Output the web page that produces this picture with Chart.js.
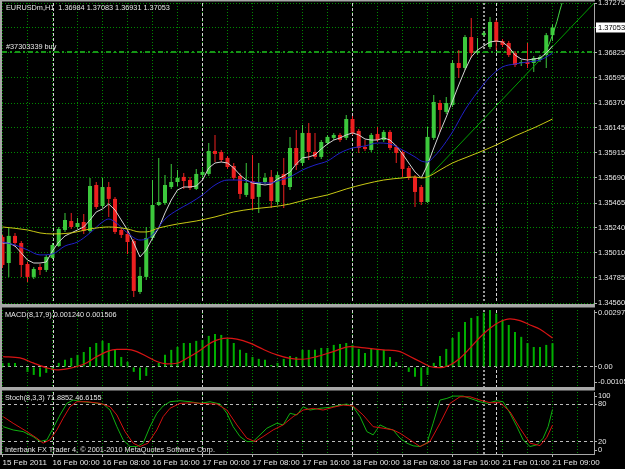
<!DOCTYPE html>
<html><head><meta charset="utf-8">
<script src="https://cdn.jsdelivr.net/npm/chart.js@4.4.1/dist/chart.umd.min.js"></script>
<style>
html,body{margin:0;padding:0;background:#000;width:625px;height:469px;overflow:hidden}
canvas{position:absolute;left:0;display:block}
#c1{top:0}#c2{top:306px}#c3{top:389px}
</style></head><body>
<canvas id="c1" width="625" height="306"></canvas>
<canvas id="c2" width="625" height="83"></canvas>
<canvas id="c3" width="625" height="80"></canvas>
<script>
// ---------------- DATA ----------------
const open = [1.35158,1.34922,1.35167,1.35103,1.34913,1.34796,1.34886,1.34859,1.34968,1.35076,
1.35221,1.35302,1.35248,1.35293,1.35212,1.35628,1.35438,1.35610,1.35502,1.35221,
1.35185,1.35121,1.34660,1.34796,1.35148,1.35447,1.35465,1.35610,1.35655,1.35701,
1.35673,1.35592,1.35719,1.35728,1.35936,1.35927,1.35873,1.35800,1.35710,1.35538,
1.35664,1.35520,1.35655,1.35701,1.35474,1.35728,1.35610,1.35963,1.35827,1.36099,
1.35927,1.35882,1.36008,1.36054,1.36081,1.36054,1.36225,1.36117,1.35972,1.35945,
1.36090,1.36035,1.36108,1.35972,1.35927,1.35782,1.35701,1.35610,1.35474,1.36054,
1.36370,1.36289,1.36352,1.36732,1.36687,1.36967,1.36822,1.36985,1.36877,1.37103,
1.36931,1.36913,1.36822,1.36732,1.36741,1.36732,1.36759,1.36804,1.36984];
const high = [1.35176,1.35239,1.35194,1.35121,1.34931,1.34886,1.34913,1.34995,1.35103,1.35248,
1.35375,1.35375,1.35330,1.35366,1.35692,1.35655,1.35692,1.35655,1.35520,1.35239,
1.35212,1.35139,1.34886,1.35248,1.35673,1.35873,1.35719,1.35818,1.35764,1.35737,
1.35701,1.35773,1.35791,1.36008,1.36081,1.35945,1.35891,1.35827,1.35737,1.35827,
1.35900,1.35827,1.35737,1.35764,1.35746,1.35873,1.36063,1.36126,1.36171,1.36189,
1.36099,1.36035,1.36081,1.36099,1.36099,1.36262,1.36253,1.36135,1.36035,1.36099,
1.36153,1.36126,1.36126,1.35990,1.35945,1.35800,1.35719,1.35628,1.36153,1.36443,
1.36397,1.36424,1.36759,1.36850,1.36985,1.37139,1.36958,1.37022,1.37148,1.37121,
1.36949,1.36931,1.36840,1.36759,1.36913,1.36795,1.36804,1.37004,1.37083];
const low = [1.34877,1.34796,1.35067,1.34796,1.34750,1.34778,1.34814,1.34841,1.34959,1.35067,
1.35203,1.35230,1.35230,1.35185,1.35194,1.35411,1.35420,1.35339,1.35185,1.35148,
1.35004,1.34615,1.34642,1.34768,1.35130,1.35438,1.35447,1.35592,1.35619,1.35592,
1.35583,1.35583,1.35701,1.35710,1.35836,1.35836,1.35773,1.35673,1.35502,1.35520,
1.35402,1.35375,1.35637,1.35420,1.35447,1.35420,1.35583,1.35764,1.35800,1.35854,
1.35863,1.35863,1.35990,1.36035,1.36017,1.36035,1.36081,1.35918,1.35936,1.35927,
1.36017,1.36017,1.35945,1.35827,1.35701,1.35673,1.35429,1.35447,1.35465,1.36035,
1.36108,1.36271,1.36334,1.36596,1.36669,1.36777,1.36804,1.36967,1.36859,1.36850,
1.36877,1.36786,1.36696,1.36705,1.36687,1.36651,1.36741,1.36687,1.36931];
const close = [1.34904,1.35167,1.35103,1.34904,1.34796,1.34868,1.34859,1.34977,1.35085,1.35230,
1.35311,1.35248,1.35284,1.35212,1.35619,1.35429,1.35610,1.35502,1.35203,1.35176,
1.35112,1.34669,1.34805,1.35148,1.35447,1.35474,1.35628,1.35655,1.35692,1.35664,
1.35601,1.35728,1.35746,1.35936,1.35909,1.35854,1.35791,1.35692,1.35547,1.35646,
1.35502,1.35655,1.35692,1.35483,1.35719,1.35628,1.35963,1.35809,1.36099,1.35927,
1.35882,1.36017,1.36063,1.36081,1.36035,1.36225,1.36099,1.35963,1.35954,1.36081,
1.36035,1.36108,1.35963,1.35918,1.35773,1.35692,1.35565,1.35474,1.36063,1.36379,
1.36307,1.36370,1.36732,1.36687,1.36967,1.36822,1.36840,1.37004,1.37103,1.36922,
1.36895,1.36804,1.36714,1.36741,1.36723,1.36777,1.36786,1.36984,1.37053];

// fast MA (white), one value per bar
const maWhite = [1.35103,1.35103,1.35076,1.35013,1.34949,1.34922,1.34922,1.34931,1.35031,1.35112,
1.35167,1.35194,1.35221,1.35248,1.35311,1.35384,1.35411,1.35456,1.35402,1.35311,
1.35221,1.35103,1.34977,1.35040,1.35148,1.35239,1.35375,1.35492,1.35583,1.35610,
1.35610,1.35619,1.35673,1.35782,1.35827,1.35836,1.35827,1.35782,1.35719,1.35673,
1.35646,1.35637,1.35628,1.35637,1.35682,1.35710,1.35746,1.35818,1.35873,1.35882,
1.35900,1.35954,1.35999,1.36035,1.36054,1.36081,1.36099,1.36081,1.36044,1.36035,
1.36035,1.36054,1.36035,1.35981,1.35909,1.35827,1.35746,1.35692,1.35809,1.35963,
1.36108,1.36243,1.36388,1.36533,1.36669,1.36786,1.36850,1.36886,1.36922,1.36931,
1.36922,1.36877,1.36804,1.36768,1.36759,1.36768,1.36777,1.36822,1.36886];
// medium MA (blue), read at these bars
const maBlueBars = [0,2,4,6,8,10,12,14,16,17,18,20,22,23,24,26,28,30,32,34,36,38,40,42,43,44,46,48,50,52,54,56,58,60,62,64,66,67,68,69,70,72,74,76,78,80,82,84,86,87,88];
const maBlue = [1.35112,1.35085,1.35040,1.34995,1.35004,1.35076,1.35112,1.35194,1.35293,1.35320,
1.35293,1.35194,1.35130,1.35139,1.35176,1.35320,1.35402,1.35465,1.35538,1.35628,
1.35673,1.35673,1.35655,1.35646,1.35646,1.35664,1.35701,1.35764,1.35809,1.35845,
1.35918,1.35963,1.35981,1.36008,1.35999,1.35945,1.35882,1.35845,1.35836,1.35882,
1.35945,1.36108,1.36307,1.36469,1.36605,1.36696,1.36723,1.36741,1.36759,1.36786,1.36822];
// slow MA (yellow), read at these bars
const maYellowBars = [0,4,6,8,11,14,17,20,22,23,25,28,31,34,37,40,43,46,49,52,55,58,61,64,66,67,68,70,72,74,76,79,82,85,88];
const maYellow = [1.35248,1.35221,1.35194,1.35185,1.35194,1.35230,1.35248,1.35230,1.35203,1.35203,
1.35239,1.35275,1.35302,1.35339,1.35384,1.35411,1.35429,1.35456,1.35502,1.35538,
1.35592,1.35637,1.35673,1.35692,1.35701,1.35692,1.35701,1.35764,1.35827,1.35873,
1.35918,1.35990,1.36072,1.36144,1.36225];
// trend line and steep green curve
const trendBars = [68, 95];
const trendPrices = [1.35691, 1.37295];
const curveBars = [87.3, 88.1, 88.7, 89.2, 89.6];
const curvePrices = [1.36880, 1.37001, 1.37106, 1.37212, 1.37287];
const orderPrice = 1.36830;

// MACD(8,17,9)
const macdHist = [0.00021,0.00021,0.00021,0.00005,-0.00026,-0.00042,-0.00052,-0.00031,-0.00016,0.00021,
0.00037,0.00047,0.00063,0.00078,0.00104,0.00125,0.00136,0.00125,0.00089,0.00052,
0.00026,-0.00026,-0.00068,-0.00047,-0.00005,0.00021,0.00063,0.00089,0.00104,0.00125,
0.00125,0.00136,0.00141,0.00162,0.00172,0.00167,0.00146,0.00125,0.00089,0.00073,
0.00052,0.00042,0.00037,0.00010,0.00021,0.00042,0.00057,0.00052,0.00089,0.00089,
0.00089,0.00099,0.00099,0.00115,0.00120,0.00125,0.00115,0.00094,0.00073,0.00094,
0.00094,0.00089,0.00052,0.00026,0.00005,-0.00026,-0.00052,-0.00100,-0.00042,0.00021,
0.00057,0.00094,0.00151,0.00183,0.00235,0.00256,0.00266,0.00283,0.00297,0.00279,
0.00245,0.00219,0.00183,0.00157,0.00125,0.00104,0.00104,0.00115,0.00124];
const macdSignalBars = [0.1,2.8,4.9,7.1,8.7,10.3,11.9,13.5,15.1,16.7,18.3,19.9,21.5,23.1,24.7,26.3,27.9,29.5,31.1,33.7,35.9,37.5,39.6,41.7,43.9,46.0,48.1,50.3,52.9,55.6,58.3,60.9,63.6,65.2,66.8,68.4,70.0,71.6,73.2,74.8,76.4,78.0,79.6,81.2,82.8,84.4,86.0,88.0];
const macdSignal = [0.00054,0.00047,0.00021,-0.00005,-0.00016,-0.00010,0.00002,0.00022,0.00054,0.00080,
0.00092,0.00092,0.00080,0.00054,0.00028,0.00016,0.00019,0.00045,0.00075,0.00132,
0.00150,0.00145,0.00124,0.00092,0.00063,0.00045,0.00040,0.00054,0.00080,0.00106,
0.00098,0.00089,0.00080,0.00054,0.00028,0.00002,-0.00004,0.00010,0.00045,0.00098,
0.00155,0.00202,0.00236,0.00251,0.00242,0.00219,0.00197,0.001506];

// Stochastic(8,3,3)
const stochMainBars = [0.1,1.7,3.3,4.9,6.0,7.1,8.1,9.2,10.3,11.3,12.9,14.5,16.1,17.2,18.3,19.3,20.4,21.5,22.5,23.6,24.7,25.7,26.8,28.4,30.0,31.6,33.2,34.8,35.9,36.9,38.0,39.1,40.1,41.2,42.3,43.9,44.9,46.0,47.1,48.1,49.2,50.8,52.4,54.0,55.1,56.1,57.2,58.3,59.3,60.4,61.5,62.5,63.6,64.7,65.7,66.8,67.9,68.9,70.0,71.1,72.1,73.7,74.8,76.4,77.5,79.1,80.1,81.2,82.3,83.3,84.4,85.5,86.5,87.3,88.0];
const stochMain = [44.1,38.8,36.1,28.1,20.1,22.8,41.6,62.9,81.7,87.0,84.3,82.7,80.6,70.9,44.1,22.8,12.0,12.0,17.5,44.1,65.7,77.4,84.3,85.9,84.3,81.7,84.3,80.6,65.7,44.1,28.1,20.1,20.1,30.8,41.6,49.6,46.9,65.7,62.9,76.2,70.9,73.7,75.3,79.0,80.6,76.2,60.2,36.1,30.8,46.9,41.6,38.8,25.5,17.5,13.2,12.0,17.5,49.6,87.0,89.7,93.4,93.4,89.7,84.3,81.7,85.9,84.3,65.7,44.1,22.8,12.0,14.8,25.5,44.1,71.8852];
const stochSignalBars = [0.1,1.7,3.9,5.5,6.5,7.6,8.7,9.7,10.8,11.9,13.5,15.6,17.2,18.3,19.6,20.9,22.0,23.3,24.7,25.7,26.8,28.4,30.5,31.6,34.3,35.9,37.5,39.1,40.4,41.7,43.3,44.9,46.5,48.1,49.7,51.3,52.9,54.5,56.1,57.7,59.3,60.9,62.5,63.6,65.2,66.8,68.4,70.0,71.6,73.2,74.8,76.4,78.0,79.6,81.2,82.8,84.4,86.0,87.1,88.0];
const stochSignal = [60.2,49.6,36.1,25.5,17.5,22.8,38.8,57.6,76.2,84.3,84.3,81.7,76.2,62.9,36.1,17.5,12.0,17.5,38.8,60.2,73.7,81.7,82.7,81.7,80.6,70.9,46.9,25.5,20.1,28.1,38.8,46.9,60.2,70.9,73.7,70.9,75.3,79.0,77.4,62.9,44.1,41.6,38.8,33.5,22.8,12.0,20.1,49.6,81.7,92.3,92.3,87.0,82.7,82.7,68.2,41.6,17.5,13.6,27.0,46.6155];

// axes
const priceTicks = [1.34560,1.347863,1.350125,1.352388,1.35465,1.356913,1.359175,1.361438,1.3637,1.365963,1.368225,1.370488,1.37275];
const priceTickLabels = ['1.34560','1.34785','1.35010','1.35240','1.35465','1.35690','1.35915','1.36145','1.36370','1.36595','1.36825','1.37053','1.37275'];
const macdTicks = [0.002973, 0, -0.00105];
const macdTickLabels = ['0.002973','0.00','-0.00105'];
const stochTicks = [100, 80, 20, 0];
const stochTickLabels = ['100','80','20','0'];
const gridBars = [0,4,8,12,16,20,24,28,32,36,40,44,48,52,56,60,64,68,72,76,80,84,88,92];
const xLabelBars = [0,8,16,24,32,40,48,56,64,72,80,88];
const xLabels = ['15 Feb 2011','16 Feb 00:00','16 Feb 08:00','16 Feb 16:00','17 Feb 00:00','17 Feb 08:00','17 Feb 16:00','18 Feb 00:00','18 Feb 08:00','18 Feb 16:00','21 Feb 01:00','21 Feb 09:00'];
const daySepBars = [8, 32, 56, 79];
const vLineBars = [77];

// ---------------- STYLE ----------------
const FONT = 'Liberation Sans';
const GRID = '#008a00';
const TXT = '#e6e6e6';
const FRAME = '#a8a8a8';
const BULL = '#3cc83c', BEAR = '#ec2020';
const X_MIN = -0.08, X_MAX = 94.64;
const CUR_TICK = 11;
Chart.defaults.font.family = FONT;
Chart.defaults.animation = false;

function xScale(show, h) {
  return {
    type: 'linear', min: X_MIN, max: X_MAX, bounds: 'data', offset: false,
    afterBuildTicks: s => { s.ticks = gridBars.map(v => ({ value: v })); },
    afterFit: s => { s.height = h; s.paddingLeft = 0; s.paddingRight = 0; },
    grid: { color: GRID, lineWidth: 1, offset: false, drawTicks: show, tickLength: 3, tickWidth: 1,
      tickColor: c => (show && c.tick && xLabelBars.indexOf(c.tick.value) >= 0) ? '#b4b4b4' : 'rgba(0,0,0,0)' },
    border: { display: false, dash: [1, 2] },
    ticks: { display: show, autoSkip: false, maxRotation: 0, minRotation: 0, align: 'start', padding: 1,
      color: TXT, font: { family: FONT, size: 8 },
      callback: v => { const k = xLabelBars.indexOf(v); return k >= 0 ? xLabels[k] : ''; } }
  };
}
function yBase(min, max) {
  return { type: 'linear', position: 'right', min, max, bounds: 'data',
    afterFit: s => { s.width = 31; s.paddingTop = 0; s.paddingBottom = 0; } };
}
function textPlugin(items) {
  return { id: 'txt', afterDraw(chart) {
    const c = chart.ctx; c.save(); c.font = '7.3px "' + FONT + '"'; c.fillStyle = TXT; c.textBaseline = 'middle';
    items.forEach(t => c.fillText(t[0], t[1], t[2])); c.restore(); } };
}
function sepPlugin() {
  return { id: 'sep', beforeDatasetsDraw(chart) {
    const c = chart.ctx, a = chart.chartArea, xs = chart.scales.x;
    c.save();
    c.lineWidth = 1; c.strokeStyle = '#d2d2d2'; c.setLineDash([3, 2]);
    daySepBars.forEach(b => { const x = Math.round(xs.getPixelForValue(b)) + 0.5; c.beginPath(); c.moveTo(x, a.top); c.lineTo(x, a.bottom); c.stroke(); });
    c.lineWidth = 2; c.strokeStyle = '#9a9a9a'; c.setLineDash([2, 2]);
    vLineBars.forEach(b => { const x = Math.round(xs.getPixelForValue(b)); c.beginPath(); c.moveTo(x, a.top); c.lineTo(x, a.bottom); c.stroke(); });
    c.restore(); } };
}
function framePlugin(rects) {
  return { id: 'frame', afterDraw(chart) {
    const c = chart.ctx; c.save(); c.fillStyle = FRAME; rects.forEach(r => c.fillRect(r[0], r[1], r[2], r[3])); c.restore(); } };
}
const lineDs = (xs, ys, color, w, mono) => ({ type: 'line', data: xs.map((x, k) => ({ x, y: ys[k] })),
  borderColor: color, borderWidth: w, pointRadius: 0, fill: false, tension: 0,
  cubicInterpolationMode: mono ? 'monotone' : 'default', order: 1 });
const common = { responsive: false, devicePixelRatio: 1, animation: false, events: [],
  plugins: { legend: { display: false }, tooltip: { enabled: false } } };

// ---------------- MAIN PANE ----------------
const candleColors = open.map((o, i) => close[i] >= o ? BULL : BEAR);
const idx = open.map((o, i) => i);
new Chart(document.getElementById('c1'), {
  type: 'bar',
  data: { datasets: [
    { type: 'bar', data: idx.map(i => ({ x: i, y: [low[i], high[i]] })), backgroundColor: candleColors,
      barThickness: 1, grouped: false, inflateAmount: 0, borderWidth: 0, order: 10 },
    { type: 'bar', data: idx.map(i => ({ x: i, y: [open[i], close[i]] })), backgroundColor: candleColors,
      barThickness: 4, grouped: false, inflateAmount: 0, borderWidth: 0, minBarLength: 1, order: 9 },
    lineDs(maYellowBars, maYellow, '#c8c814', 1, true),
    lineDs(maBlueBars, maBlue, '#2020c8', 1, true),
    lineDs(idx, maWhite, '#d4d4d4', 1, false),
    lineDs(trendBars, trendPrices, '#00a000', 1, false),
    lineDs(curveBars, curvePrices, '#44d844', 1, true)
  ] },
  options: Object.assign({}, common, {
    layout: { padding: { left: 2, right: 0, top: 3, bottom: 3 } },
    scales: {
      x: xScale(false, 0),
      y: Object.assign(yBase(1.34560, 1.37275), {
        afterBuildTicks: s => { s.ticks = priceTicks.map(v => ({ value: v })); },
        grid: { color: GRID, lineWidth: 1, drawTicks: true, tickLength: 3, tickWidth: 1, tickColor: '#b4b4b4' },
        border: { display: true, color: FRAME, width: 1, dash: [1, 2] },
        ticks: { autoSkip: false, padding: 1, font: { family: FONT, size: 7.5 },
          color: c => c.index === CUR_TICK ? '#000000' : TXT,
          showLabelBackdrop: c => c.index === CUR_TICK,
          backdropColor: '#ffffff', backdropPadding: { top: 1, bottom: 0, left: 2, right: 6 },
          callback: (v, i) => priceTickLabels[i] }
      })
    }
  }),
  plugins: [sepPlugin(),
    { id: 'order', beforeDatasetsDraw(chart) {
      const c = chart.ctx, a = chart.chartArea, y = Math.round(chart.scales.y.getPixelForValue(orderPrice));
      c.save(); c.strokeStyle = '#169616'; c.lineWidth = 2; c.setLineDash([5, 3, 2, 3]);
      c.beginPath(); c.moveTo(a.left, y); c.lineTo(a.right, y); c.stroke(); c.restore(); } },
    textPlugin([['EURUSDm,H1  1.36984 1.37083 1.36931 1.37053', 6, 8], ['#37303339 buy', 6, 47]]),
    framePlugin([[0, 0, 595, 1.5], [0, 0, 2, 306], [0, 304, 595, 2]])]
});

// ---------------- MACD PANE ----------------
const MACD_MIN = -0.00105, MACD_MAX = 0.002973, MACD_H = 77;
new Chart(document.getElementById('c2'), {
  type: 'bar',
  data: { datasets: [
    { type: 'bar', data: macdHist.map((v, i) => ({ x: i, y: v })), backgroundColor: '#00b000',
      barThickness: 2, grouped: false, inflateAmount: 0, borderWidth: 0, order: 5 },
    lineDs(macdSignalBars, macdSignal, '#d81414', 1.2, true)
  ] },
  options: Object.assign({}, common, {
    layout: { padding: { left: 2, right: 0, top: 4, bottom: 2 } },
    scales: {
      x: xScale(false, 0),
      y: Object.assign(yBase(MACD_MIN, MACD_MAX), {
        afterBuildTicks: s => { const u = (MACD_MAX - MACD_MIN) / MACD_H;
          s.ticks = [{ value: macdTicks[0] - 3 * u }, { value: macdTicks[1] }, { value: macdTicks[2] + 5 * u }]; },
        grid: { color: c => c.index === 1 ? '#bcbcbc' : 'rgba(0,0,0,0)', lineWidth: 1, drawTicks: true, tickLength: 3, tickColor: '#b4b4b4' },
        border: { display: true, color: FRAME, width: 1, dash: [3, 3] },
        ticks: { autoSkip: false, padding: 1, color: TXT, font: { family: FONT, size: 7.5 },
          callback: (v, i) => macdTickLabels[i] }
      })
    }
  }),
  plugins: [sepPlugin(), textPlugin([['MACD(8,17,9) 0.001240 0.001506', 5, 9]]),
    framePlugin([[0, 0, 595, 1.5], [0, 0, 2, 83], [0, 81, 595, 2]])]
});

// ---------------- STOCH PANE ----------------
const ST_H = 62;
new Chart(document.getElementById('c3'), {
  type: 'line',
  data: { datasets: [
    lineDs(stochSignalBars, stochSignal, '#d41010', 1, false),
    lineDs(stochMainBars, stochMain, '#10b010', 1, false)
  ] },
  options: Object.assign({}, common, {
    layout: { padding: { left: 2, right: 0, top: 3, bottom: 0 } },
    scales: {
      x: xScale(true, 15),
      y: Object.assign(yBase(0, 100), {
        afterBuildTicks: s => { const u = 100 / ST_H;
          s.ticks = [{ value: stochTicks[0] - 4 * u }, { value: stochTicks[1] }, { value: stochTicks[2] }, { value: stochTicks[3] + 4 * u }]; },
        grid: { color: c => (c.index === 1 || c.index === 2) ? '#bcbcbc' : 'rgba(0,0,0,0)', lineWidth: 1, drawTicks: true, tickLength: 3, tickColor: '#b4b4b4' },
        border: { display: true, color: FRAME, width: 1, dash: [3, 3] },
        ticks: { autoSkip: false, padding: 1, color: TXT, font: { family: FONT, size: 7.5 },
          callback: (v, i) => stochTickLabels[i] }
      })
    }
  }),
  plugins: [sepPlugin(),
    textPlugin([['Stoch(8,3,3) 71.8852 46.6155', 5, 9], ['Interbank FX Trader 4, \u00A9 2001-2010 MetaQuotes Software Corp.', 5, 61]]),
    framePlugin([[0, 0, 595, 1.5], [0, 0, 2, 66], [0, 65, 595, 1]])]
});
</script>
</body></html>
